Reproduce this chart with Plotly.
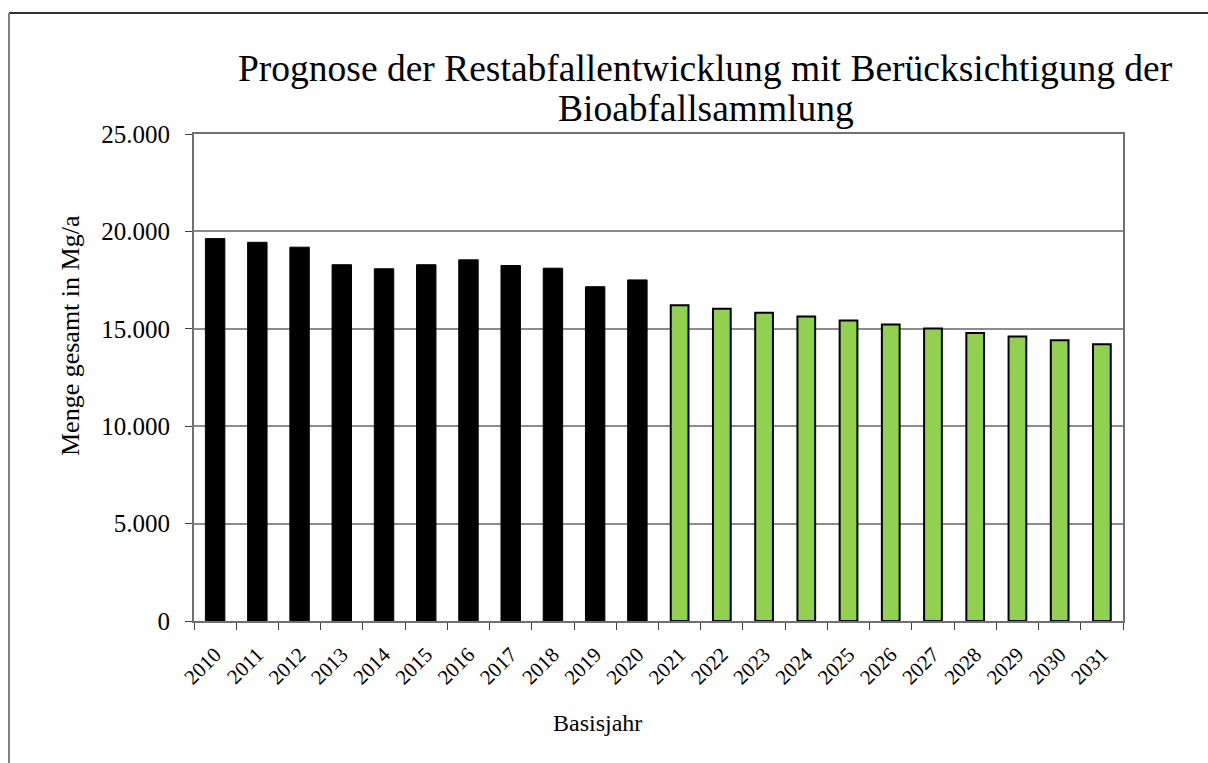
import plotly.graph_objects as go

years = [str(y) for y in range(2010, 2032)]
hist_years = years[:11]
hist_values = [19630, 19440, 19190, 18290, 18080, 18290, 18540, 18250, 18110, 17160, 17510]
prog_years = years[11:]
prog_values = [16210, 16030, 15830, 15630, 15420, 15220, 15010, 14790, 14600, 14410, 14210]

title_line1 = "Prognose der Restabfallentwicklung mit Berücksichtigung der"
title_line2 = "Bioabfallsammlung"
y_title = "Menge gesamt in Mg/a"
x_title = "Basisjahr"
y_ticks = [0, 5000, 10000, 15000, 20000, 25000]
y_ticklabels = ["0", "5.000", "10.000", "15.000", "20.000", "25.000"]

FONT = "Liberation Serif"
W, H = 1208, 763
L, R, T, B = 194, 85, 134, 142
PW, PH = W - L - R, H - T - B


def px(x):
    return (x - L) / PW


def py(y):
    return (H - B - y) / PH


fig = go.Figure()
fig.add_trace(go.Bar(x=hist_years, y=hist_values, marker=dict(color="#000000", line=dict(color="#000000", width=1)),
                     width=0.46, showlegend=False))
fig.add_trace(go.Bar(x=prog_years, y=prog_values, marker=dict(color="#92D050", line=dict(color="#000000", width=2)),
                     width=0.42, showlegend=False))

fig.update_layout(
    width=W, height=H,
    paper_bgcolor="white", plot_bgcolor="white",
    margin=dict(l=L, r=R, t=T, b=B),
    barmode="overlay",
    font=dict(family=FONT, color="black"),
    xaxis=dict(categoryorder="array", categoryarray=years, tickson="boundaries",
               ticks="outside", ticklen=7, tickcolor="#404040", tickangle=-45, ticklabelstandoff=11,
               showline=True, linecolor="#707070", linewidth=2, mirror=True,
               tickfont=dict(family=FONT, size=21, color="black"),
               range=[-0.5, 21.5]),
    yaxis=dict(range=[0, 25000], tickvals=y_ticks, ticktext=y_ticklabels,
               ticks="outside", ticklen=7, tickcolor="#404040", ticklabelstandoff=10,
               showline=True, linecolor="#707070", linewidth=2, mirror=True,
               showgrid=True, gridcolor="#8c8c8c", gridwidth=1.5, zeroline=False,
               tickfont=dict(family=FONT, size=25, color="black")),
)

ann = dict(xref="paper", yref="paper", showarrow=False, font=dict(family=FONT, color="black"))
fig.add_annotation(text=title_line1, x=px(705), y=py(68), xanchor="center", yanchor="middle",
                   **{**ann, "font": dict(family=FONT, size=37.5, color="black")})
fig.add_annotation(text=title_line2, x=px(706), y=py(109), xanchor="center", yanchor="middle",
                   **{**ann, "font": dict(family=FONT, size=37.5, color="black")})
fig.add_annotation(text=y_title, x=px(70), y=py(336), xanchor="center", yanchor="middle", textangle=-90,
                   **{**ann, "font": dict(family=FONT, size=26, color="black")})
fig.add_annotation(text=x_title, x=px(597), y=py(723), xanchor="center", yanchor="middle",
                   **{**ann, "font": dict(family=FONT, size=24, color="black")})

# outer frame (only top and left edges are visible in the reference)
fig.add_shape(type="line", xref="paper", yref="paper",
              x0=px(9), x1=px(W), y0=py(13), y1=py(13),
              line=dict(color="#333333", width=2))
fig.add_shape(type="line", xref="paper", yref="paper",
              x0=px(9), x1=px(9), y0=py(13), y1=py(H),
              line=dict(color="#808080", width=2))

fig.write_html("out.html", config={"displayModeBar": False},
               post_script="document.body.style.margin='0';document.body.style.overflow='hidden';")
